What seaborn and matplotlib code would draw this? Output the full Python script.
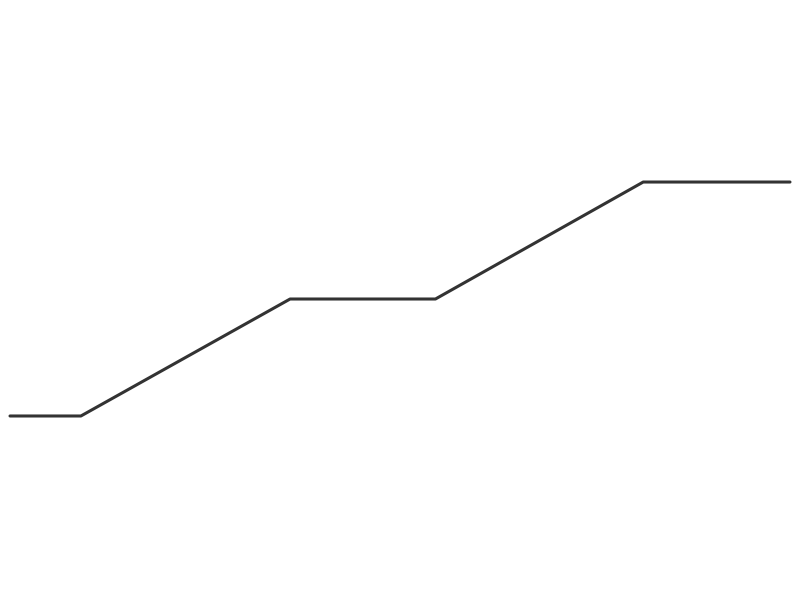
import matplotlib
matplotlib.use("Agg")
import matplotlib.pyplot as plt
import seaborn as sns
import pandas as pd

x_values = [0, 1, 3.95, 6, 8.93, 11]
y_values = [0, 0, 1, 1, 2, 2]

df = pd.DataFrame({"x": x_values, "y": y_values})

sns.set_theme(style="white")
fig = plt.figure(figsize=(8, 6), dpi=100)
ax = fig.add_axes([0, 0, 1, 1])
sns.lineplot(data=df, x="x", y="y", ax=ax, color="#333333", linewidth=2.2)
ax.set_xlim(-0.141, 11.141)
ax.set_ylim(-1.573, 3.556)
ax.set_axis_off()
fig.savefig("out.png", dpi=100)
